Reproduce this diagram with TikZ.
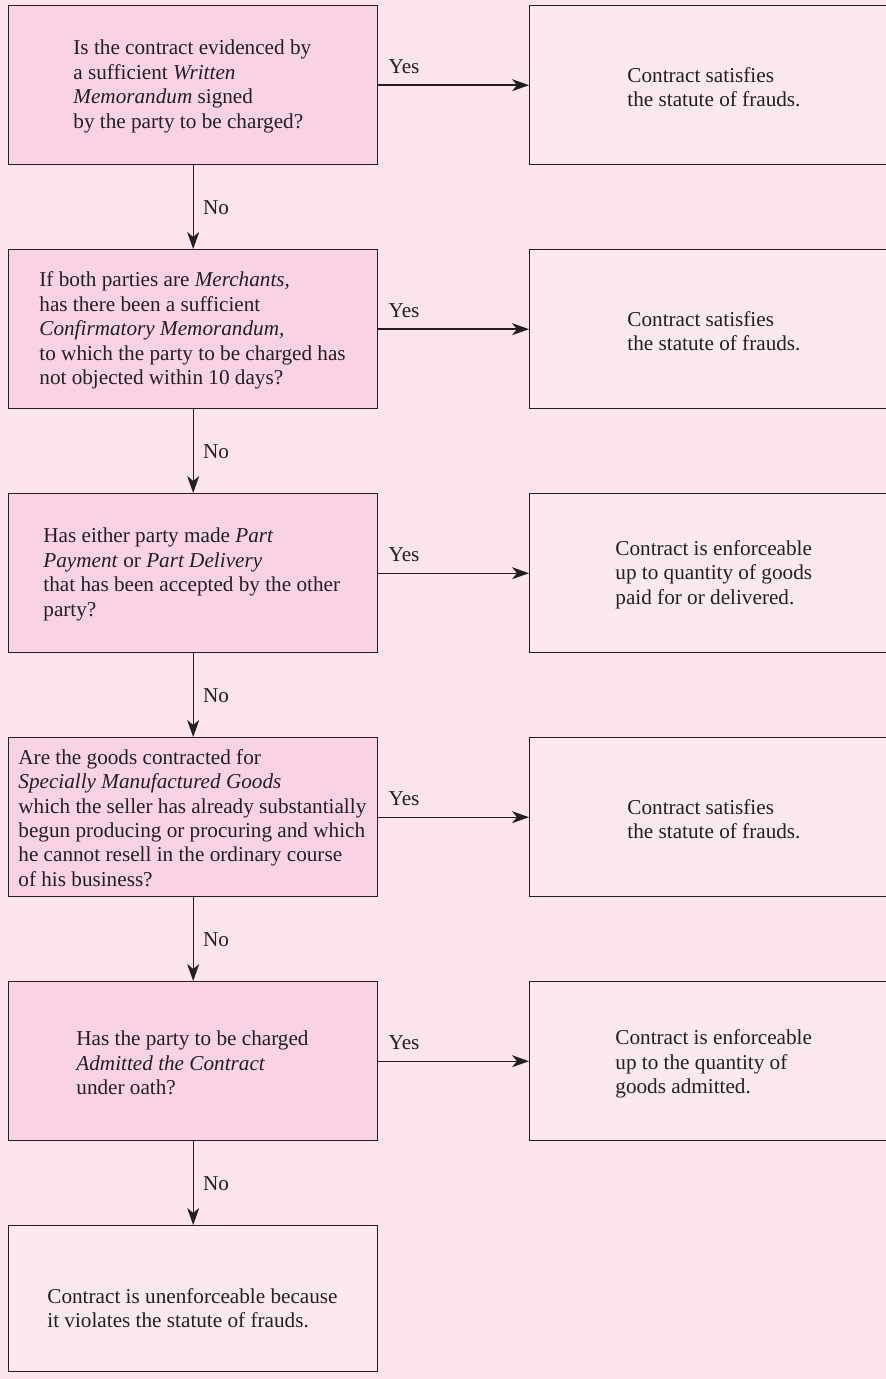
\documentclass[tikz,border=0pt]{standalone}
\usepackage{fontspec}
\setmainfont{Liberation Serif}
\usetikzlibrary{arrows.meta}

\definecolor{pagebg}{RGB}{251,228,238}
\definecolor{askfill}{RGB}{249,211,228}
\definecolor{endfill}{RGB}{252,232,241}
\definecolor{inkline}{RGB}{35,31,32}

\tikzset{
  ask/.style={draw=inkline, line width=0.7pt, fill=askfill, rectangle,
    minimum width=184.5pt, minimum height=79.5pt, inner sep=0pt, anchor=north west},
  outcome/.style={draw=inkline, line width=0.7pt, fill=endfill, rectangle,
    minimum width=200pt, minimum height=79.5pt, inner sep=0pt, anchor=north west},
  txt/.style={font=\fontsize{10.6}{12.2}\selectfont, text=inkline, align=left,
    inner sep=0pt, anchor=west},
  lbl/.style={font=\fontsize{10.6}{12.2}\selectfont, text=inkline, inner sep=0pt},
  flow/.style={draw=inkline, line width=0.7pt,
    -{Stealth[length=8.5pt, width=6pt, inset=2.5pt]}}
}

\begin{document}
\begin{tikzpicture}[x=0.5pt, y=-0.5pt]
\useasboundingbox (0,0) rectangle (886,1379);
\fill[pagebg] (0,0) rectangle (886,1379);
\clip (0,0) rectangle (886,1379);

% question column
\node[ask] (q1) at (8,5) {};
\node[ask] (q2) at (8,249) {};
\node[ask] (q3) at (8,493) {};
\node[ask] (q4) at (8,737) {};
\node[ask] (q5) at (8,981) {};
\node[outcome, minimum width=184.5pt, minimum height=73pt] (q6) at (8,1225) {};

% outcome column (runs off the right edge)
\node[outcome] (r1) at (529,5) {};
\node[outcome] (r2) at (529,249) {};
\node[outcome] (r3) at (529,493) {};
\node[outcome] (r4) at (529,737) {};
\node[outcome] (r5) at (529,981) {};

% question texts
\node[txt] (t1) at (73,86.5) {Is the contract evidenced by\\a sufficient \textit{Written}\\\textit{Memorandum} signed\\by the party to be charged?};
\node[txt] (t2) at (39,330.5) {If both parties are \textit{Merchants,}\\has there been a sufficient\\\textit{Confirmatory Memorandum,}\\to which the party to be charged has\\not objected within 10 days?};
\node[txt] (t3) at (43,574.5) {Has either party made \textit{Part}\\\textit{Payment} or \textit{Part Delivery}\\that has been accepted by the other\\party?};
\node[txt] (t4) at (18,818) {Are the goods contracted for\\\textit{Specially Manufactured Goods}\\which the seller has already substantially\\begun producing or procuring and which\\he cannot resell in the ordinary course\\of his business?};
\node[txt] (t5) at (76,1063) {Has the party to be charged\\\textit{Admitted the Contract}\\under oath?};
\node[txt] (t6) at (47,1308) {Contract is unenforceable because\\it violates the statute of frauds.};

% outcome texts
\node[txt] (s1) at (627,87) {Contract satisfies\\the statute of frauds.};
\node[txt] (s2) at (627,331) {Contract satisfies\\the statute of frauds.};
\node[txt] (s3) at (615,574.5) {Contract is enforceable\\up to quantity of goods\\paid for or delivered.};
\node[txt] (s4) at (627,819) {Contract satisfies\\the statute of frauds.};
\node[txt] (s5) at (615,1064) {Contract is enforceable\\up to the quantity of\\goods admitted.};

% "Yes" branches
\foreach \i in {1,...,5} {
  \draw[flow] (q\i.east) -- (r\i.west);
}
\foreach \i/\yy in {1/67,2/311,3/555,4/799,5/1043} {
  \node[lbl] (yes\i) at (404,\yy) {Yes};
}

% "No" branches
\draw[flow] (q1.south) -- (q2.north);
\draw[flow] (q2.south) -- (q3.north);
\draw[flow] (q3.south) -- (q4.north);
\draw[flow] (q4.south) -- (q5.north);
\draw[flow] (q5.south) -- (q6.north);
\foreach \i/\yy in {1/208,2/452,3/696,4/940,5/1184} {
  \node[lbl] (no\i) at (216,\yy) {No};
}
\end{tikzpicture}
\end{document}
